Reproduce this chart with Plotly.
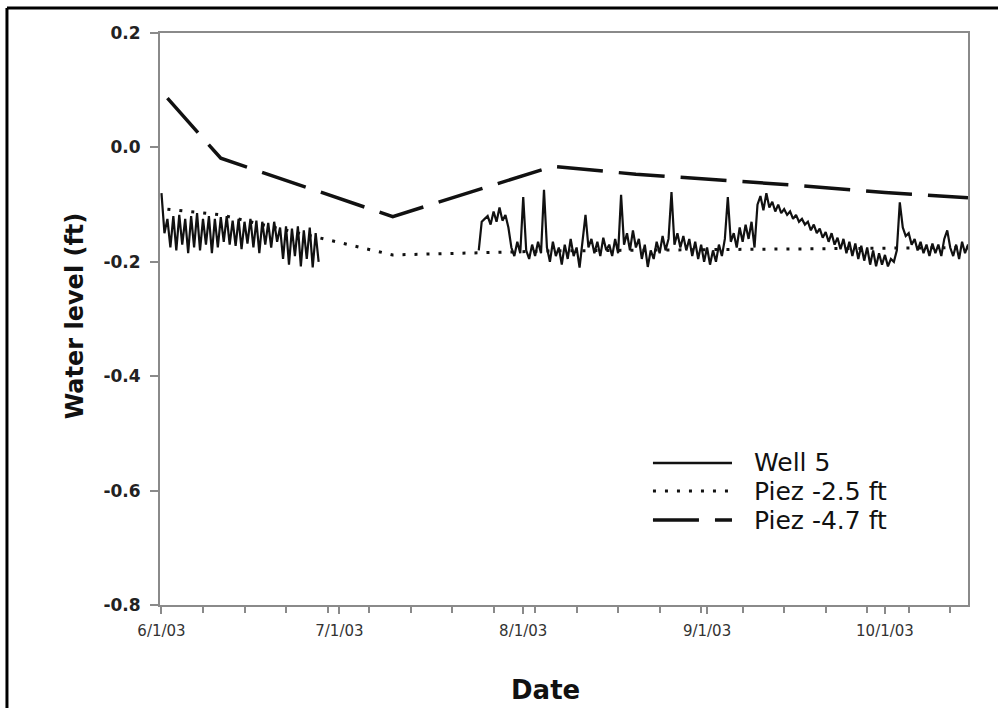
import pandas as pd
import plotly.graph_objects as go

# ---------------- data ----------------
# Well 5, segment 1: 12-hourly readings starting 2003-06-01 00:00
well_seg1_start = "2003-06-01 00:00"
well_seg1_values = [
    -0.080, -0.150, -0.125, -0.175, -0.120, -0.180, -0.118, -0.170, -0.125, -0.185,
    -0.120, -0.175, -0.115, -0.180, -0.125, -0.170, -0.120, -0.185, -0.125, -0.175,
    -0.122, -0.165, -0.120, -0.170, -0.128, -0.172, -0.125, -0.178, -0.130, -0.168,
    -0.125, -0.175, -0.128, -0.185, -0.130, -0.170, -0.132, -0.175, -0.130, -0.165,
    -0.140, -0.195, -0.138, -0.205, -0.142, -0.190, -0.138, -0.208, -0.145, -0.195,
    -0.140, -0.210, -0.150, -0.200,
]
# Well 5, segment 2: 12-hourly readings starting 2003-07-24 12:00
well_seg2_start = "2003-07-24 12:00"
well_seg2_values = [
    -0.180, -0.130, -0.125, -0.120, -0.135, -0.112, -0.130, -0.105, -0.128, -0.118,
    -0.140, -0.175, -0.190, -0.165, -0.185, -0.087, -0.180, -0.195, -0.170, -0.190,
    -0.165, -0.185, -0.074, -0.175, -0.200, -0.165, -0.190, -0.175, -0.205, -0.170,
    -0.195, -0.160, -0.190, -0.175, -0.210, -0.165, -0.118, -0.175, -0.160, -0.185,
    -0.165, -0.190, -0.158, -0.180, -0.170, -0.190, -0.160, -0.185, -0.083, -0.170,
    -0.150, -0.180, -0.145, -0.175, -0.160, -0.195, -0.170, -0.209, -0.180, -0.195,
    -0.165, -0.185, -0.155, -0.180, -0.160, -0.078, -0.170, -0.150, -0.175, -0.155,
    -0.180, -0.160, -0.190, -0.165, -0.195, -0.170, -0.200, -0.175, -0.205, -0.180,
    -0.200, -0.170, -0.190, -0.160, -0.087, -0.165, -0.150, -0.175, -0.140, -0.165,
    -0.135, -0.160, -0.130, -0.175, -0.100, -0.085, -0.110, -0.080, -0.105, -0.095,
    -0.112, -0.100, -0.115, -0.108, -0.118, -0.112, -0.125, -0.118, -0.130, -0.125,
    -0.135, -0.130, -0.145, -0.135, -0.150, -0.142, -0.158, -0.148, -0.165, -0.150,
    -0.170, -0.158, -0.178, -0.160, -0.185, -0.165, -0.190, -0.168, -0.195, -0.172,
    -0.198, -0.175, -0.205, -0.180, -0.208, -0.185, -0.205, -0.188, -0.208, -0.195,
    -0.200, -0.180, -0.096, -0.140, -0.155, -0.150, -0.170, -0.160, -0.180, -0.165,
    -0.185, -0.170, -0.190, -0.168, -0.185, -0.170, -0.190, -0.160, -0.145, -0.175,
    -0.190, -0.170, -0.195, -0.165, -0.185, -0.170, -0.200,
]

# Piezometer -2.5 ft
piez25_dates = ["2003-06-02", "2003-06-11", "2003-07-10", "2003-08-06", "2003-10-15"]
piez25_values = [-0.108, -0.118, -0.188, -0.181, -0.175]

# Piezometer -4.7 ft
piez47_dates = ["2003-06-02", "2003-06-11", "2003-07-10", "2003-08-06", "2003-08-20",
                "2003-09-03", "2003-09-17", "2003-10-01", "2003-10-15"]
piez47_values = [0.086, -0.019, -0.121, -0.033, -0.047, -0.057, -0.067, -0.079, -0.088]

y_ticks = [0.2, 0.0, -0.2, -0.4, -0.6, -0.8]
y_tick_labels = ["0.2", "0.0", "-0.2", "-0.4", "-0.6", "-0.8"]

series_names = ["Well 5", "Piez -2.5 ft", "Piez -4.7 ft"]
series_dashes = ["solid", "3px,9px", "46px,16px"]
series_widths = [2.2, 3, 3.5]

# ---------------- build ----------------
seg1_x = list(pd.date_range(well_seg1_start, periods=len(well_seg1_values), freq="12h"))
seg2_x = list(pd.date_range(well_seg2_start, periods=len(well_seg2_values), freq="12h"))
well_x = seg1_x + [None] + seg2_x
well_y = well_seg1_values + [None] + well_seg2_values

ink = "#111111"
fig = go.Figure()
fig.add_trace(go.Scatter(x=well_x, y=well_y, mode="lines", name=series_names[0],
                         line=dict(color=ink, width=series_widths[0], dash=series_dashes[0]),
                         connectgaps=False, showlegend=False))
fig.add_trace(go.Scatter(x=piez25_dates, y=piez25_values, mode="lines", name=series_names[1],
                         line=dict(color=ink, width=series_widths[1], dash=series_dashes[1]),
                         showlegend=False))
fig.add_trace(go.Scatter(x=piez47_dates, y=piez47_values, mode="lines", name=series_names[2],
                         line=dict(color=ink, width=series_widths[2], dash=series_dashes[2]),
                         showlegend=False))

# legend drawn as key lines + text (paper coordinates)
legend_rows_y = [0.2483, 0.1993, 0.1486]
shapes = []
annotations = []
for name, dash, w, yy in zip(series_names, series_dashes, series_widths, legend_rows_y):
    shapes.append(dict(type="line", xref="paper", yref="paper",
                       x0=0.6101, x1=0.7079, y0=yy, y1=yy,
                       line=dict(color=ink, width=max(w, 2.5), dash=dash)))
    annotations.append(dict(xref="paper", yref="paper", x=0.7327, y=yy,
                            xanchor="left", yanchor="middle", showarrow=False,
                            text=name, font=dict(family="DejaVu Sans", size=25, color=ink)))

# axis titles
annotations.append(dict(xref="paper", yref="paper", x=0.4765, y=-0.1486,
                        xanchor="center", yanchor="middle", showarrow=False,
                        text="<b>Date</b>", font=dict(family="DejaVu Sans", size=26, color=ink)))
annotations.append(dict(xref="paper", yref="paper", x=-0.105, y=0.505,
                        xanchor="center", yanchor="middle", showarrow=False, textangle=-90,
                        text="<b>Water level (ft)</b>",
                        font=dict(family="DejaVu Sans", size=24, color=ink)))

# outer frame of the figure
shapes.append(dict(type="line", xref="paper", yref="paper",
                   x0=-0.1894, x1=-0.1894, y0=-0.3, y1=1.0437,
                   line=dict(color="black", width=3)))
shapes.append(dict(type="line", xref="paper", yref="paper",
                   x0=-0.1894, x1=1.1, y0=1.0437, y1=1.0437,
                   line=dict(color="black", width=3)))

axis_col = "#8a8a8a"
fig.update_layout(
    width=998, height=708,
    margin=dict(l=160, r=30, t=33, b=103),
    paper_bgcolor="white", plot_bgcolor="white",
    font=dict(family="DejaVu Sans, Liberation Sans, sans-serif", color="#222222"),
    showlegend=False,
    xaxis=dict(
        type="date",
        range=["2003-05-31 18:00", "2003-10-15 00:00"],
        tick0="2003-06-01", dtick="M1", tickformat="%-m/%-d/%y",
        ticks="outside", ticklen=7, tickwidth=1.5, tickcolor=axis_col,
        minor=dict(tick0="2003-06-01", dtick=7 * 86400000, ticks="outside",
                   ticklen=6, tickwidth=1.5, tickcolor=axis_col),
        showline=True, linecolor=axis_col, linewidth=2, mirror=True,
        showgrid=False, zeroline=False,
        ticklabelstandoff=4,
        tickfont=dict(family="DejaVu Sans", size=15, color="#333333"),
    ),
    yaxis=dict(
        range=[-0.8, 0.2],
        tickvals=y_ticks, ticktext=y_tick_labels,
        ticks="outside", ticklen=8, tickwidth=1.5, tickcolor=axis_col,
        showline=True, linecolor=axis_col, linewidth=2, mirror=True,
        showgrid=False, zeroline=False,
        ticklabelstandoff=6,
        tickfont=dict(family="DejaVu Sans", size=17, color="#222222", weight="bold"),
    ),
    shapes=shapes,
    annotations=annotations,
)

fig.write_html("out.html")
